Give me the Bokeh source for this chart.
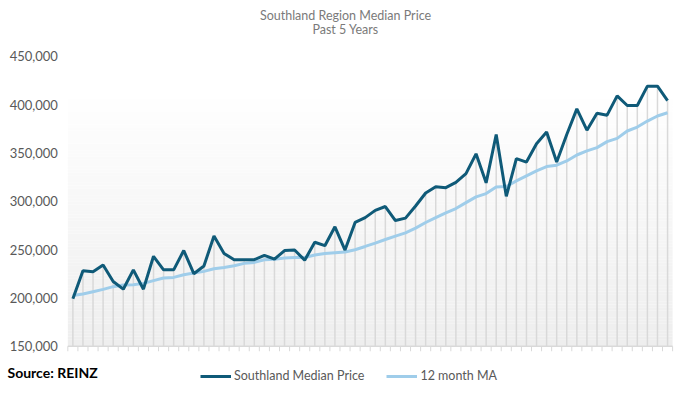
from bokeh.plotting import figure
from bokeh.models import Range1d, Legend, LegendItem, Label, ColumnDataSource
from bokeh.core.properties import value
from bokeh.embed import file_html
from bokeh.resources import INLINE

# ---- data ----
months = list(range(60))  # 60 monthly observations, past 5 years
median_price = [199000, 228000, 227000, 234000, 217000, 209000, 229000, 209000, 243000, 229000,
                229000, 249000, 225000, 233000, 264000, 246000, 239500, 239500, 239500, 244000,
                240000, 249000, 249500, 239000, 257500, 254000, 273500, 249500, 278000, 283000,
                290500, 294500, 280000, 282500, 295000, 308500, 315000, 314000, 319500, 328500,
                349000, 319000, 369000, 305000, 344000, 340500, 359500, 371500, 340500, 369000,
                395500, 373500, 391000, 389000, 409000, 399000, 399000, 419000, 419000, 404000]
ma_12 = [202500, 204000, 206400, 208800, 211600, 213400, 213700, 215000, 217800, 220600,
         221200, 224000, 225700, 227400, 230200, 231500, 233300, 235700, 236700, 239500,
         240000, 241200, 241800, 241800, 244300, 246000, 246700, 247400, 249800, 253200,
         256700, 260400, 263900, 267300, 272200, 278000, 283100, 288000, 292400, 298500,
         304500, 307900, 314800, 315100, 321000, 326200, 331300, 335800, 337200, 341600,
         347800, 352000, 355400, 361600, 365000, 372600, 376700, 382900, 388100, 391500]
y_ticks = [150000, 200000, 250000, 300000, 350000, 400000, 450000]
y_tick_labels = ["150,000", "200,000", "250,000", "300,000", "350,000", "400,000", "450,000"]
title_lines = ["Southland Region Median Price", "Past 5 Years"]
series_names = ["Southland Median Price", "12 month MA"]
source_text = "Source: REINZ"

FONT = "Lato"
DARK = "#0f5a78"
LIGHT = "#9fcdea"
GRID = "#d9d9d9"
W, H = 685, 393

n = len(months)
base = y_ticks[0]

# plot frame covers the whole canvas; the ranges are chosen so that the
# chart area sits where the reference draws it
p = figure(width=W, height=H, output_backend="svg", toolbar_location=None,
           x_axis_location=None, y_axis_location=None,
           x_range=Range1d(-7.18, 60.78), y_range=Range1d(101100, 507600),
           min_border=0)
p.outline_line_color = None
p.background_fill_color = "white"
p.border_fill_color = "white"
p.xgrid.visible = False
p.ygrid.visible = False

# gradient plot-area background (white at top -> light grey at bottom)
bands = 80
g_top = 416000
bottoms, tops, cols = [], [], []
for k in range(bands):
    b = base + (g_top - base) * k / bands
    t = base + (g_top - base) * (k + 1) / bands
    f = k / (bands - 1)
    c = int(round(0xee + (0xff - 0xee) * f))
    bottoms.append(b); tops.append(t); cols.append("#%02x%02x%02x" % (c, c, c))
p.quad(left=-0.5, right=n - 0.5, bottom=bottoms, top=tops, fill_color=cols, line_color=None)

src = ColumnDataSource(dict(x=months, med=median_price, ma=ma_12, base=[base] * n))

# drop lines from each monthly point
p.segment(x0="x", y0="base", x1="x", y1="med", source=src, line_color=GRID, line_width=1.5)

# category axis: baseline and boundary ticks
bounds = [i - 0.5 for i in range(n + 1)]
p.segment(x0=-0.5, y0=base, x1=n - 0.5, y1=base, line_color=GRID, line_width=1.5)
p.segment(x0=bounds, y0=[base] * len(bounds), x1=bounds, y1=[base - 5200] * len(bounds),
          line_color=GRID, line_width=1)

r_ma = p.line("x", "ma", source=src, line_color=LIGHT, line_width=3)
r_med = p.line("x", "med", source=src, line_color=DARK, line_width=3)

# value axis labels
p.text(x=[-0.5] * len(y_ticks), y=y_ticks, text=y_tick_labels, x_offset=-10,
       text_align="right", text_baseline="middle", text_font=value(FONT),
       text_font_size="13px", text_color="#595959")

# title lines
for txt, yy in zip(title_lines, [H - 15, H - 29]):
    p.add_layout(Label(x=345, y=yy, x_units="screen", y_units="screen", text=txt,
                       text_align="center", text_baseline="middle", text_font=FONT,
                       text_font_size="12.5px", text_color="#7a7a7a"))

# source note
p.add_layout(Label(x=7, y=H - 372, x_units="screen", y_units="screen", text=source_text,
                   text_align="left", text_baseline="middle", text_font=FONT,
                   text_font_style="bold", text_font_size="14px", text_color="#000000"))

legend = Legend(items=[LegendItem(label=series_names[0], renderers=[r_med]),
                       LegendItem(label=series_names[1], renderers=[r_ma])],
                orientation="horizontal", location=(200, H - 383), padding=0, margin=0,
                spacing=22, glyph_width=31, glyph_height=14, label_height=14,
                label_standoff=3, background_fill_alpha=0, border_line_color=None,
                label_text_font=FONT, label_text_font_size="12.5px",
                label_text_color="#595959")
p.add_layout(legend, "center")

open("out.html", "w").write(file_html(p, INLINE))
